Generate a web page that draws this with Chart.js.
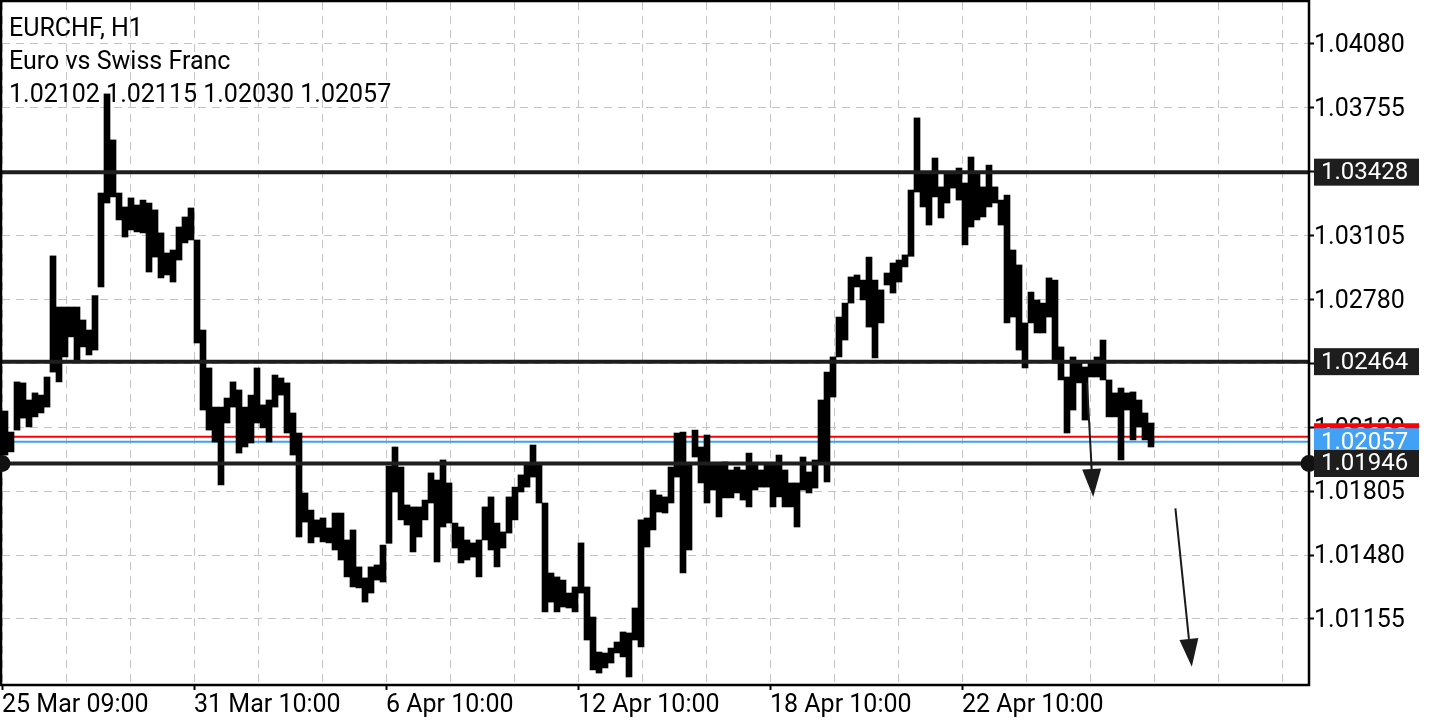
<!DOCTYPE html>
<html>
<head>
<meta charset="utf-8">
<script src="https://cdn.jsdelivr.net/npm/chart.js@4.4.0/dist/chart.umd.min.js"></script>
<style>
  html, body { margin: 0; padding: 0; background: #fff; }
  #wrap { width: 1440px; height: 720px; }
</style>
</head>
<body>
<div id="wrap"><canvas id="chart" width="1440" height="720"></canvas></div>
<script>
const symbolTitle = 'EURCHF, H1';
const symbolName = 'Euro vs Swiss Franc';
const lastBar = [1.02102, 1.02115, 1.02030, 1.02057]; // open high low close
const askPrice = 1.02082;
const hoursPerBar = 3;

// high / low of each 3-hour block
const barHighs = [
    1.02213, 1.02106, 1.02361, 1.02356, 1.02269, 1.02305, 1.02294, 1.02386, 1.03002, 1.02742,
    1.02742, 1.02742, 1.02742, 1.02676, 1.02625, 1.02800, 1.03322, 1.03826, 1.03592, 1.03322,
    1.03251, 1.03297, 1.03261, 1.03286, 1.03271, 1.03236, 1.03119, 1.03017, 1.03032, 1.03149,
    1.03200, 1.03246, 1.03083, 1.02625, 1.02432, 1.02233, 1.02233, 1.02279, 1.02361, 1.02320,
    1.02233, 1.02294, 1.02432, 1.02244, 1.02269, 1.02396, 1.02381, 1.02356, 1.02203, 1.02101,
    1.01796, 1.01709, 1.01659, 1.01669, 1.01618, 1.01694, 1.01694, 1.01557, 1.01608, 1.01420,
    1.01364, 1.01420, 1.01430, 1.01531, 1.01933, 1.02030, 1.01928, 1.01735, 1.01725, 1.01725,
    1.01760, 1.01898, 1.01862, 1.01964, 1.01847, 1.01643, 1.01623, 1.01557, 1.01542, 1.01557,
    1.01725, 1.01776, 1.01643, 1.01598, 1.01776, 1.01826, 1.01888, 1.01949, 1.02040, 1.01949,
    1.01745, 1.01389, 1.01369, 1.01353, 1.01287, 1.01318, 1.01542, 1.01318, 1.01165, 1.00987,
    1.00982, 1.01007, 1.01038, 1.01089, 1.01084, 1.01211, 1.01659, 1.01669, 1.01811, 1.01786,
    1.01776, 1.01928, 1.02101, 1.02106, 1.01949, 1.02116, 1.02030, 1.02091, 1.01949, 1.01949,
    1.01954, 1.01913, 1.01928, 1.01913, 1.01999, 1.01938, 1.01913, 1.01943, 1.01949, 1.01989,
    1.01913, 1.01847, 1.01847, 1.01979, 1.01903, 1.01964, 1.02269, 1.02411, 1.02488, 1.02691,
    1.02762, 1.02895, 1.02905, 1.02879, 1.02996, 1.02879, 1.02829, 1.02915, 1.02966, 1.02981,
    1.03007, 1.03337, 1.03704, 1.03424, 1.03424, 1.03500, 1.03353, 1.03424, 1.03424, 1.03449,
    1.03373, 1.03505, 1.03429, 1.03353, 1.03464, 1.03353, 1.03286, 1.03312, 1.03032, 1.02956,
    1.02661, 1.02818, 1.02778, 1.02762, 1.02890, 1.02879, 1.02539, 1.02386, 1.02488, 1.02457,
    1.02437, 1.02457, 1.02488, 1.02574, 1.02371, 1.02305, 1.02330, 1.02305, 1.02310, 1.02269,
    1.02203, 1.02152
];
const barLows = [
    1.01989, 1.02005, 1.02116, 1.02177, 1.02132, 1.02183, 1.02203, 1.02233, 1.02411, 1.02361,
    1.02488, 1.02590, 1.02473, 1.02539, 1.02498, 1.02523, 1.02844, 1.03271, 1.03302, 1.03185,
    1.03098, 1.03134, 1.03124, 1.03119, 1.02920, 1.02996, 1.02890, 1.02905, 1.02869, 1.02981,
    1.03068, 1.03083, 1.02559, 1.02218, 1.02116, 1.02055, 1.01837, 1.02152, 1.02233, 1.01999,
    1.02030, 1.02050, 1.02152, 1.02127, 1.02055, 1.02233, 1.02294, 1.02101, 1.01989, 1.01572,
    1.01648, 1.01542, 1.01572, 1.01547, 1.01542, 1.01506, 1.01455, 1.01369, 1.01318, 1.01313,
    1.01241, 1.01287, 1.01353, 1.01343, 1.01540, 1.01801, 1.01659, 1.01633, 1.01496, 1.01572,
    1.01659, 1.01745, 1.01445, 1.01623, 1.01643, 1.01516, 1.01440, 1.01455, 1.01470, 1.01369,
    1.01557, 1.01506, 1.01420, 1.01516, 1.01592, 1.01659, 1.01801, 1.01826, 1.01877, 1.01745,
    1.01191, 1.01241, 1.01191, 1.01216, 1.01211, 1.01191, 1.01287, 1.01048, 1.00896, 1.00880,
    1.00906, 1.00931, 1.00982, 1.00962, 1.00860, 1.01048, 1.01013, 1.01521, 1.01608, 1.01699,
    1.01694, 1.01745, 1.01877, 1.01389, 1.01506, 1.01979, 1.01847, 1.01745, 1.01811, 1.01674,
    1.01771, 1.01771, 1.01796, 1.01760, 1.01725, 1.01811, 1.01826, 1.01826, 1.01725, 1.01776,
    1.01725, 1.01725, 1.01623, 1.01811, 1.01796, 1.01821, 1.01950, 1.01852, 1.02284, 1.02488,
    1.02574, 1.02762, 1.02844, 1.02778, 1.02640, 1.02483, 1.02661, 1.02854, 1.02813, 1.02869,
    1.02946, 1.03000, 1.03327, 1.03251, 1.03159, 1.03302, 1.03195, 1.03271, 1.03347, 1.03286,
    1.03058, 1.03149, 1.03185, 1.03200, 1.03251, 1.03271, 1.03159, 1.02661, 1.02691, 1.02523,
    1.02432, 1.02661, 1.02610, 1.02610, 1.02691, 1.02457, 1.02371, 1.02101, 1.02218, 1.02356,
    1.02167, 1.02386, 1.02386, 1.02371, 1.02183, 1.02183, 1.01964, 1.02218, 1.02066, 1.02132,
    1.02066, 1.02030
];

const yTicks = [1.01155, 1.01480, 1.01805, 1.02130, 1.02455, 1.02780, 1.03105, 1.03430, 1.03755, 1.04080];
const xTickHours = [0, 96, 192, 288, 384, 480];
const xTickLabels = ['25 Mar 09:00', '31 Mar 10:00', '6 Apr 10:00', '12 Apr 10:00', '18 Apr 10:00', '22 Apr 10:00'];
const levels = [1.03428, 1.02464, 1.01946];
const selectedLevel = 1.01946;
const arrowFrom = [[542.5, 1.02356], [586.7, 1.01718]];
const arrowTo = [[545.6, 1.01776], [594.9, 1.00912]];

const FONT = 'Roboto';
const gridGray = '#c4c4c4';

const bars = barHighs.map((h, i) => ({ x: i * hoursPerBar + hoursPerBar / 2, y: [barLows[i], h] }));

function priceBox(ctx, ca, py, fill, text) {
    ctx.fillStyle = fill;
    ctx.fillRect(ca.right + 5, py - 13.5, 105, 27);
    ctx.fillStyle = '#fff';
    ctx.font = '24px ' + FONT;
    ctx.textAlign = 'left';
    ctx.textBaseline = 'middle';
    ctx.fillText(text, ca.right + 12, py + 1);
}

const mtPlugin = {
    id: 'mt',
    beforeDatasetsDraw(chart) {
        const { ctx, chartArea: ca, scales: { y } } = chart;
        ctx.save();
        ctx.lineWidth = 2;
        [[askPrice, '#ff0000'], [lastBar[3], '#42a0f5']].forEach(([p, c]) => {
            const py = y.getPixelForValue(p);
            ctx.strokeStyle = c;
            ctx.beginPath();
            ctx.moveTo(ca.left, py);
            ctx.lineTo(ca.right, py);
            ctx.stroke();
        });
        ctx.restore();
    },
    afterDatasetsDraw(chart) {
        const { ctx, chartArea: ca, scales: { x, y } } = chart;
        ctx.save();
        // horizontal levels
        ctx.strokeStyle = '#1e1e1e';
        ctx.lineWidth = 4;
        levels.forEach(p => {
            const py = y.getPixelForValue(p);
            ctx.beginPath();
            ctx.moveTo(ca.left, py);
            ctx.lineTo(ca.right, py);
            ctx.stroke();
        });
        // arrows
        arrowFrom.forEach((a, i) => {
            const x0 = x.getPixelForValue(a[0]), y0 = y.getPixelForValue(a[1]);
            const x1 = x.getPixelForValue(arrowTo[i][0]), y1 = y.getPixelForValue(arrowTo[i][1]);
            const len = Math.hypot(x1 - x0, y1 - y0);
            const dx = (x1 - x0) / len, dy = (y1 - y0) / len;
            const bx = x1 - dx * 28, by = y1 - dy * 28;
            ctx.strokeStyle = '#1a1a1a';
            ctx.lineWidth = 2;
            ctx.beginPath();
            ctx.moveTo(x0, y0);
            ctx.lineTo(bx, by);
            ctx.stroke();
            ctx.fillStyle = '#1a1a1a';
            ctx.beginPath();
            ctx.moveTo(x1, y1);
            ctx.lineTo(bx - dy * 9.5, by + dx * 9.5);
            ctx.lineTo(bx + dy * 9.5, by - dx * 9.5);
            ctx.closePath();
            ctx.fill();
        });
        // frame
        ctx.strokeStyle = '#000';
        ctx.lineWidth = 2.5;
        ctx.strokeRect(ca.left - 1, ca.top - 1, ca.right - ca.left + 1, ca.bottom - ca.top + 1);
        ctx.restore();
    },
    afterDraw(chart) {
        const { ctx, chartArea: ca, scales: { y } } = chart;
        ctx.save();
        // anchor points of the selected level
        const sy = y.getPixelForValue(selectedLevel);
        ctx.fillStyle = '#111';
        [ca.left, ca.right].forEach(px => {
            ctx.beginPath();
            ctx.arc(px, sy, 8.5, 0, Math.PI * 2);
            ctx.fill();
        });
        // price labels on the axis
        priceBox(ctx, ca, y.getPixelForValue(askPrice), '#ff0000', askPrice.toFixed(5));
        priceBox(ctx, ca, y.getPixelForValue(lastBar[3]), '#42a0f5', lastBar[3].toFixed(5));
        levels.forEach(p => priceBox(ctx, ca, y.getPixelForValue(p), '#1e1e1e', p.toFixed(5)));
        // title block
        ctx.fillStyle = '#000';
        ctx.font = '25px ' + FONT;
        ctx.textAlign = 'left';
        ctx.textBaseline = 'alphabetic';
        ctx.fillText(symbolTitle, 9, 36);
        ctx.fillText(symbolName, 9, 69);
        ctx.fillText(lastBar.map(v => v.toFixed(5)).join(' '), 9, 102);
        ctx.restore();
    }
};

const ctx = document.getElementById('chart').getContext('2d');
Chart.defaults.font.family = FONT;
Chart.defaults.color = '#000';

new Chart(ctx, {
    type: 'bar',
    data: {
        datasets: [{
            data: bars,
            backgroundColor: '#000',
            borderWidth: 0,
            barThickness: 6,
            grouped: false
        }]
    },
    options: {
        responsive: false,
        animation: false,
        events: [],
        layout: { padding: { left: 2, top: 2, right: 0, bottom: 0 } },
        plugins: { legend: { display: false }, tooltip: { enabled: false } },
        scales: {
            x: {
                type: 'linear',
                min: 0,
                max: 653.5,
                offset: false,
                afterFit: s => { s.height = 35; s.paddingLeft = 0; s.paddingRight = 0; },
                afterBuildTicks: s => {
                    const t = [];
                    for (let h = 0; h <= 640; h += 32) t.push({ value: h });
                    s.ticks = t;
                },
                grid: {
                    offset: false,
                    color: gridGray,
                    lineWidth: 1,
                    tickLength: 5,
                    tickWidth: 2,
                    tickColor: c => (c.tick && xTickHours.includes(c.tick.value)) ? '#000' : 'rgba(0,0,0,0)'
                },
                border: { display: false, dash: [8, 6] },
                ticks: {
                    autoSkip: false,
                    maxRotation: 0,
                    minRotation: 0,
                    align: 'start',
                    padding: 1,
                    font: { size: 25 },
                    color: '#000',
                    callback: v => {
                        const i = xTickHours.indexOf(v);
                        return i >= 0 ? xTickLabels[i] : '';
                    }
                }
            },
            y: {
                type: 'linear',
                position: 'right',
                min: 1.008192,
                max: 1.042936,
                afterFit: s => { s.width = 131; s.paddingTop = 0; s.paddingBottom = 0; },
                afterBuildTicks: s => { s.ticks = yTicks.map(v => ({ value: v })); },
                grid: {
                    color: gridGray,
                    lineWidth: 1,
                    tickLength: 5,
                    tickWidth: 2,
                    tickColor: '#000'
                },
                border: { display: false, dash: [8, 6] },
                ticks: {
                    padding: 0,
                    labelOffset: 2,
                    font: { size: 25 },
                    color: '#000',
                    callback: v => v.toFixed(5)
                }
            }
        }
    },
    plugins: [mtPlugin]
});
</script>
</body>
</html>
